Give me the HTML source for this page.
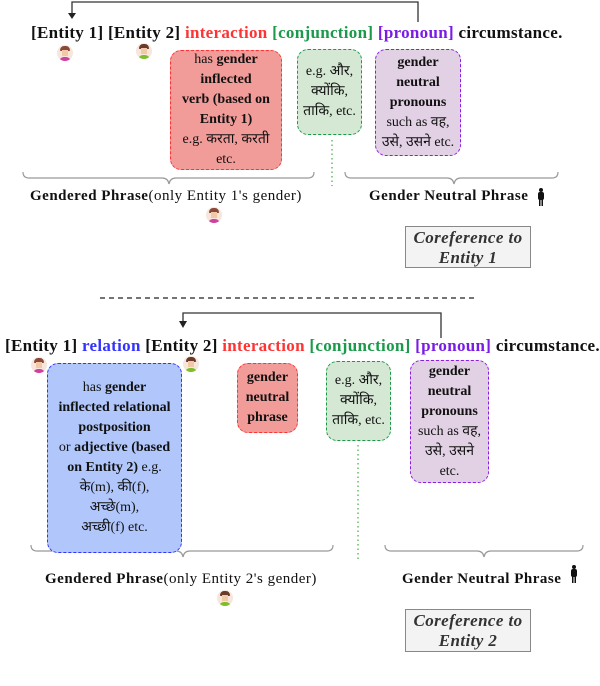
<!DOCTYPE html>
<html><head><meta charset="utf-8"><style>
body{margin:0;width:600px;height:686px;background:#fff;position:relative;overflow:hidden;font-family:"Liberation Serif","DejaVu Serif",serif;color:#111}
.a{position:absolute}
.t{position:absolute;font-weight:bold;font-size:17px;white-space:nowrap;letter-spacing:0.3px}
.box{position:absolute;border-radius:11px;text-align:center;font-size:14px;line-height:20px;letter-spacing:0;box-sizing:border-box;display:flex;align-items:center;justify-content:center;flex-direction:column;white-space:nowrap}
.red{background:#f19c99;border:1.3px dashed #f33}
.grn{background:#d5e8d4;border:1.3px dashed #1a9a4a}
.pur{background:#e2d0e4;border:1.3px dashed #8a1ce6}
.blu{background:#b1c7fc;border:1.3px dashed #33f}
.lab{position:absolute;font-size:15px;letter-spacing:0.5px;white-space:nowrap}
.cor{position:absolute;background:#f3f3f3;border:1.5px solid #888;font-style:italic;font-weight:bold;font-size:17px;letter-spacing:0.4px;text-align:center;line-height:20px;color:#333;box-sizing:border-box;white-space:nowrap;padding-top:1px}
.av{position:absolute;width:16px;height:16px;border-radius:50%;background:#f7e6dc;overflow:hidden}
.av .h{position:absolute;left:3px;top:1px;width:10px;height:5px;border-radius:5px 5px 1px 1px;background:#8a4a3a}
.av .f{position:absolute;left:5px;top:5px;width:6px;height:6px;background:#f2c9a8}
.av .b{position:absolute;left:2px;top:12px;width:12px;height:5px;border-radius:5px 5px 0 0}
</style></head><body>
<svg class="a" style="left:0;top:0" width="600" height="686">
<g fill="none" stroke="#333" stroke-width="1.3">
<path d="M72,16 V2 H418 V22"/>
<path d="M183,325 V313 H441 V338"/>
</g>
<path d="M68,13 L76,13 L72,19 Z" fill="#222"/>
<path d="M179,321 L187,321 L183,328 Z" fill="#222"/>
<line x1="100" y1="298" x2="478" y2="298" stroke="#222" stroke-width="1.3" stroke-dasharray="5,4"/>
<line x1="332" y1="140" x2="332" y2="186" stroke="#6b6" stroke-width="1.5" stroke-dasharray="1.5,3"/>
<line x1="358" y1="445" x2="358" y2="560" stroke="#6b6" stroke-width="1.5" stroke-dasharray="1.5,3"/>
<g fill="none" stroke="#999" stroke-width="1.2">
<path d="M23,172 q0,6 6,6 H162 q6,0 7,6 q1,-6 7,-6 H308 q6,0 6,-6"/>
<path d="M345,172 q0,6 6,6 H447 q6,0 7,6 q1,-6 7,-6 H552 q6,0 6,-6"/>
<path d="M31,545 q0,6 6,6 H176 q6,0 7,6 q1,-6 7,-6 H327 q6,0 6,-6"/>
<path d="M385,545 q0,6 6,6 H477 q6,0 7,6 q1,-6 7,-6 H577 q6,0 6,-6"/>
</g>
<g fill="#111">
<circle cx="541" cy="190" r="2"/><rect x="538" y="192" width="6" height="8" rx="2"/><rect x="539" y="199" width="1.5" height="7"/><rect x="541.5" y="199" width="1.5" height="7"/>
<circle cx="574" cy="567" r="2"/><rect x="571" y="569" width="6" height="8" rx="2"/><rect x="572" y="576" width="1.5" height="7"/><rect x="574.5" y="576" width="1.5" height="7"/>
</g>
</svg>

<div class="t" style="left:31px;top:23px">[Entity 1] [Entity 2] <span style="color:#f33">interaction</span> <span style="color:#1a9a4a">[conjunction]</span> <span style="color:#7a1ce6">[pronoun]</span> circumstance.</div>
<div class="t" style="left:5px;top:336px">[Entity 1] <span style="color:#33f">relation</span> [Entity 2] <span style="color:#f33">interaction</span> <span style="color:#1a9a4a">[conjunction]</span> <span style="color:#7a1ce6">[pronoun]</span> circumstance.</div>

<div class="av" style="left:57px;top:45px"><div class="h"></div><div class="f"></div><div class="b" style="background:#d040a0"></div></div>
<div class="av" style="left:136px;top:43px"><div class="h" style="background:#6a3a2a"></div><div class="f"></div><div class="b" style="background:#7cbf2a"></div></div>
<div class="av" style="left:206px;top:207px"><div class="h"></div><div class="f"></div><div class="b" style="background:#d040a0"></div></div>
<div class="av" style="left:31px;top:357px"><div class="h"></div><div class="f"></div><div class="b" style="background:#d040a0"></div></div>
<div class="av" style="left:183px;top:356px"><div class="h" style="background:#6a3a2a"></div><div class="f"></div><div class="b" style="background:#7cbf2a"></div></div>
<div class="av" style="left:217px;top:590px"><div class="h" style="background:#6a3a2a"></div><div class="f"></div><div class="b" style="background:#7cbf2a"></div></div>

<div class="box red" style="left:170px;top:50px;width:112px;height:120px">
<div>has <b>gender</b></div><div><b>inflected</b></div><div><b>verb (based on</b></div><div><b>Entity 1)</b></div><div>e.g. करता, करती</div><div>etc.</div></div>
<div class="box grn" style="left:297px;top:49px;width:65px;height:86px"><div>e.g. और,</div><div>क्योंकि,</div><div>ताकि, etc.</div></div>
<div class="box pur" style="left:375px;top:49px;width:86px;height:107px"><div><b>gender</b></div><div><b>neutral</b></div><div><b>pronouns</b></div><div>such as वह,</div><div>उसे, उसने etc.</div></div>

<div class="lab" style="left:30px;top:188px"><b>Gendered Phrase</b>(only Entity 1's gender)</div>
<div class="lab" style="left:369px;top:188px"><b>Gender Neutral Phrase</b></div>
<div class="cor" style="left:405px;top:226px;width:126px;height:42px">Coreference to<br>Entity 1</div>

<div class="box blu" style="left:47px;top:363px;width:135px;height:190px">
<div>has <b>gender</b></div><div><b>inflected relational</b></div><div><b>postposition</b></div><div>or <b>adjective (based</b></div><div><b>on Entity 2)</b> e.g.</div><div>के(m), की(f),</div><div>अच्छे(m),</div><div>अच्छी(f) etc.</div></div>
<div class="box red" style="left:237px;top:363px;width:61px;height:70px"><div><b>gender</b></div><div><b>neutral</b></div><div><b>phrase</b></div></div>
<div class="box grn" style="left:326px;top:361px;width:65px;height:80px"><div>e.g. और,</div><div>क्योंकि,</div><div>ताकि, etc.</div></div>
<div class="box pur" style="left:410px;top:360px;width:79px;height:123px"><div><b>gender</b></div><div><b>neutral</b></div><div><b>pronouns</b></div><div>such as वह,</div><div>उसे, उसने</div><div>etc.</div></div>

<div class="lab" style="left:45px;top:571px"><b>Gendered Phrase</b>(only Entity 2's gender)</div>
<div class="lab" style="left:402px;top:571px"><b>Gender Neutral Phrase</b></div>
<div class="cor" style="left:405px;top:609px;width:126px;height:43px">Coreference to<br>Entity 2</div>
</body></html>
